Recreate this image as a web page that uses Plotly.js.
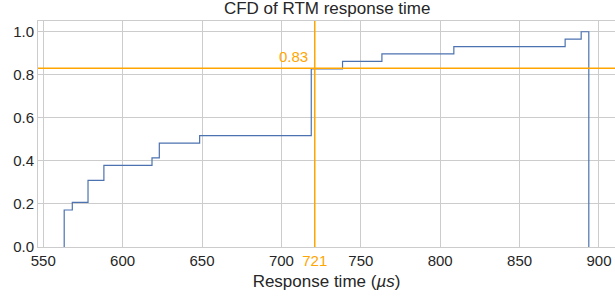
<!DOCTYPE html>
<html>
<head>
<meta charset="utf-8">
<script src="https://cdn.plot.ly/plotly-3.0.1.min.js"></script>
<style>html,body{margin:0;padding:0;background:#fff;}#chart{width:615px;height:300px;}</style>
</head>
<body>
<div id="chart"></div>
<script>
// Cumulative step histogram: bin edges (µs) and cumulative fraction at each step
const stepEdges = [563.2, 563.2, 568.3, 578.2, 588.2, 618.5, 623.1, 648.5, 718.8, 738.5, 763.3, 808.6, 878.7, 888.8, 893.6, 893.6];
const cumFraction = [0, 0.172, 0.207, 0.310, 0.379, 0.414, 0.483, 0.517, 0.828, 0.862, 0.897, 0.931, 0.966, 1.0, 1.0, 0];
// Marker lines
const markX = 721;
const markY = 0.83;
// Ticks
const xTickVals = [550, 600, 650, 700, 721, 750, 800, 850, 900];
const xTickText = ['550', '600', '650', '700', '<span style="color:#ffa500">721</span>', '750', '800', '850', '900'];
const yTickVals = [0, 0.2, 0.4, 0.6, 0.8, 1.0];
const yTickText = ['0.0', '0.2', '0.4', '0.6', '0.8', '1.0'];

const textColor = '#262626';
const gridColor = '#cccccc';
const orange = '#ffa500';
const font = 'Liberation Sans, Arial, sans-serif';

const data = [{
  x: stepEdges,
  y: cumFraction,
  type: 'scatter',
  mode: 'lines',
  line: {shape: 'hv', color: '#4c72b0', width: 1.2},
  hoverinfo: 'skip',
  showlegend: false
}];

const layout = {
  width: 615, height: 300,
  margin: {l: 38, r: 0, t: 21, b: 53, pad: 0},
  paper_bgcolor: '#ffffff', plot_bgcolor: '#ffffff',
  font: {family: font, color: textColor, size: 15},
  title: {text: 'CFD of RTM response time', font: {family: font, size: 17, color: textColor}, x: 0.532, xanchor: 'center', y: 0.972, yanchor: 'middle'},
  xaxis: {
    range: [546.7, 910.1],
    tickvals: xTickVals, ticktext: xTickText,
    showgrid: true, gridcolor: gridColor, gridwidth: 1,
    zeroline: false, showline: true, linecolor: gridColor, linewidth: 1, mirror: true,
    ticks: '', tickfont: {size: 15, color: textColor, family: font},
    title: {text: 'Response time (<i>µs</i>)', font: {size: 17, color: textColor, family: font}, standoff: 7},
    automargin: false
  },
  yaxis: {
    range: [0, 1.05],
    tickvals: yTickVals, ticktext: yTickText,
    showgrid: true, gridcolor: gridColor, gridwidth: 1,
    zeroline: false, showline: true, linecolor: gridColor, linewidth: 1, mirror: false,
    ticks: '', tickfont: {size: 15, color: textColor, family: font},
    automargin: false
  },
  shapes: [
    {type: 'line', xref: 'paper', x0: 0, x1: 1, yref: 'y', y0: markY, y1: markY, line: {color: orange, width: 1.5}, layer: 'above'},
    {type: 'line', xref: 'x', x0: markX, x1: markX, yref: 'paper', y0: 0, y1: 1, line: {color: orange, width: 1.5}, layer: 'above'}
  ],
  annotations: [
    {x: markX, y: markY, xref: 'x', yref: 'y', text: String(markY), showarrow: false, xanchor: 'right', yanchor: 'bottom', xshift: -5, yshift: 1, font: {size: 15, color: orange, family: font}}
  ]
};

Plotly.newPlot('chart', data, layout, {displayModeBar: false, staticPlot: true});
</script>
</body>
</html>
